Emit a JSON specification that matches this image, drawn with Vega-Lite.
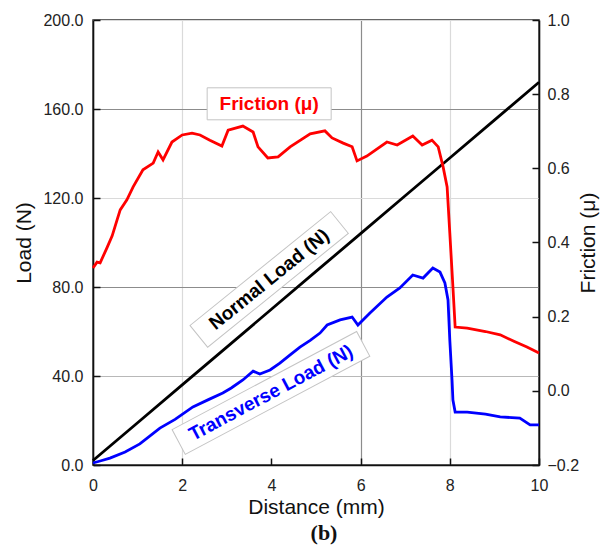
{
  "$schema": "https://vega.github.io/schema/vega-lite/v6.json",
  "width": 446,
  "height": 445,
  "autosize": {"type": "none"},
  "padding": {"left": 93, "top": 20, "right": 63, "bottom": 81},
  "background": "white",
  "config": {
    "font": "Liberation Sans",
    "view": {"stroke": "#333", "strokeWidth": 1.5},
    "axis": {
      "domainColor": "#111",
      "domainWidth": 1.6,
      "tickColor": "#111",
      "tickWidth": 1.5,
      "tickSize": -7,
      "labelFlush": false,
      "labelOverlap": false,
      "labelFont": "Liberation Sans",
      "labelFontSize": 16,
      "labelColor": "#222",
      "titleFont": "Liberation Sans",
      "titleFontSize": 21,
      "titleFontWeight": "normal",
      "titleColor": "#111"
    }
  },
  "title": {
    "text": "(b)",
    "orient": "bottom",
    "anchor": "middle",
    "font": "Liberation Serif",
    "fontWeight": "bold",
    "fontSize": 22,
    "color": "#111",
    "offset": 6,
    "dx": 8
  },
  "datasets": {
    "load": [
      {"d": 0, "load": 2, "series": "Normal"},
      {"d": 1, "load": 19, "series": "Normal"},
      {"d": 2, "load": 36, "series": "Normal"},
      {"d": 3, "load": 53, "series": "Normal"},
      {"d": 4, "load": 70, "series": "Normal"},
      {"d": 5, "load": 87, "series": "Normal"},
      {"d": 6, "load": 104, "series": "Normal"},
      {"d": 7, "load": 121, "series": "Normal"},
      {"d": 8, "load": 138, "series": "Normal"},
      {"d": 9, "load": 155, "series": "Normal"},
      {"d": 10, "load": 172, "series": "Normal"},
      {"d": 0, "load": 0.9, "series": "Transverse"},
      {"d": 0.16, "load": 1.8, "series": "Transverse"},
      {"d": 0.38, "load": 3.1, "series": "Transverse"},
      {"d": 0.72, "load": 5.8, "series": "Transverse"},
      {"d": 1.05, "load": 9.5, "series": "Transverse"},
      {"d": 1.5, "load": 16.6, "series": "Transverse"},
      {"d": 1.84, "load": 20.5, "series": "Transverse"},
      {"d": 2.24, "load": 26.1, "series": "Transverse"},
      {"d": 2.6, "load": 29.5, "series": "Transverse"},
      {"d": 2.91, "load": 32.4, "series": "Transverse"},
      {"d": 3.1, "load": 34.6, "series": "Transverse"},
      {"d": 3.36, "load": 38.2, "series": "Transverse"},
      {"d": 3.59, "load": 42.2, "series": "Transverse"},
      {"d": 3.74, "load": 40.9, "series": "Transverse"},
      {"d": 3.97, "load": 42.7, "series": "Transverse"},
      {"d": 4.19, "load": 45.8, "series": "Transverse"},
      {"d": 4.42, "load": 49.5, "series": "Transverse"},
      {"d": 4.64, "load": 53.0, "series": "Transverse"},
      {"d": 4.87, "load": 56.0, "series": "Transverse"},
      {"d": 5.09, "load": 59.3, "series": "Transverse"},
      {"d": 5.25, "load": 62.9, "series": "Transverse"},
      {"d": 5.54, "load": 65.2, "series": "Transverse"},
      {"d": 5.81, "load": 66.5, "series": "Transverse"},
      {"d": 5.94, "load": 62.9, "series": "Transverse"},
      {"d": 6.21, "load": 68.3, "series": "Transverse"},
      {"d": 6.59, "load": 75.5, "series": "Transverse"},
      {"d": 6.88, "load": 79.6, "series": "Transverse"},
      {"d": 7.17, "load": 85.4, "series": "Transverse"},
      {"d": 7.4, "load": 84.0, "series": "Transverse"},
      {"d": 7.62, "load": 88.5, "series": "Transverse"},
      {"d": 7.78, "load": 86.7, "series": "Transverse"},
      {"d": 7.89, "load": 81.8, "series": "Transverse"},
      {"d": 7.96, "load": 74.2, "series": "Transverse"},
      {"d": 8.0, "load": 56.2, "series": "Transverse"},
      {"d": 8.05, "load": 38.2, "series": "Transverse"},
      {"d": 8.07, "load": 29.2, "series": "Transverse"},
      {"d": 8.12, "load": 23.8, "series": "Transverse"},
      {"d": 8.39, "load": 23.8, "series": "Transverse"},
      {"d": 8.8, "load": 22.9, "series": "Transverse"},
      {"d": 9.13, "load": 21.6, "series": "Transverse"},
      {"d": 9.57, "load": 21.1, "series": "Transverse"},
      {"d": 9.8, "load": 18.0, "series": "Transverse"},
      {"d": 10.0, "load": 18.0, "series": "Transverse"}
    ],
    "friction": [
      {"d": 0, "mu": 0.331},
      {"d": 0.09, "mu": 0.347},
      {"d": 0.16, "mu": 0.345},
      {"d": 0.31, "mu": 0.385},
      {"d": 0.43, "mu": 0.418},
      {"d": 0.54, "mu": 0.461},
      {"d": 0.61, "mu": 0.488},
      {"d": 0.76, "mu": 0.515},
      {"d": 0.9, "mu": 0.55},
      {"d": 1.12, "mu": 0.596},
      {"d": 1.35, "mu": 0.614},
      {"d": 1.46, "mu": 0.644},
      {"d": 1.57, "mu": 0.623},
      {"d": 1.77, "mu": 0.671},
      {"d": 2.0, "mu": 0.69},
      {"d": 2.22, "mu": 0.695},
      {"d": 2.4, "mu": 0.69},
      {"d": 2.62, "mu": 0.676},
      {"d": 2.89, "mu": 0.66},
      {"d": 3.03, "mu": 0.703},
      {"d": 3.36, "mu": 0.714},
      {"d": 3.59, "mu": 0.698},
      {"d": 3.7, "mu": 0.658},
      {"d": 3.92, "mu": 0.628},
      {"d": 4.15, "mu": 0.631},
      {"d": 4.42, "mu": 0.658},
      {"d": 4.87, "mu": 0.693},
      {"d": 5.2, "mu": 0.701},
      {"d": 5.36, "mu": 0.682},
      {"d": 5.61, "mu": 0.668},
      {"d": 5.81, "mu": 0.658},
      {"d": 5.92, "mu": 0.62},
      {"d": 6.14, "mu": 0.633},
      {"d": 6.59, "mu": 0.671},
      {"d": 6.82, "mu": 0.663},
      {"d": 7.17, "mu": 0.687},
      {"d": 7.38, "mu": 0.663},
      {"d": 7.6, "mu": 0.676},
      {"d": 7.74, "mu": 0.658},
      {"d": 7.85, "mu": 0.604},
      {"d": 7.94, "mu": 0.55},
      {"d": 8.0, "mu": 0.426},
      {"d": 8.07, "mu": 0.28},
      {"d": 8.12, "mu": 0.172},
      {"d": 8.39, "mu": 0.169},
      {"d": 8.8, "mu": 0.16},
      {"d": 9.13, "mu": 0.151},
      {"d": 9.45, "mu": 0.133},
      {"d": 9.73, "mu": 0.118},
      {"d": 10.0, "mu": 0.102}
    ]
  },
  "layer": [
    {
      "layer": [
        {
          "data": {"name": "load"},
          "mark": {"type": "line", "strokeWidth": 2.8, "interpolate": "linear"},
          "encoding": {
            "x": {
              "field": "d", "type": "quantitative", "title": "Distance (mm)",
              "scale": {"domain": [0, 10], "nice": false},
              "axis": {
                "values": [0, 2, 4, 6, 8, 10],
                "format": "d",
                "labelPadding": 19,
                "titlePadding": 3,
                "grid": true,
                "gridColor": {"condition": {"test": "datum.value === 6", "value": "#8c8c8c"}, "value": "#dadada"},
                "gridOpacity": {"condition": {"test": "datum.value === 4", "value": 0}, "value": 1},
                "gridWidth": 1.2
              }
            },
            "y": {
              "field": "load", "type": "quantitative", "title": "Load (N)",
              "scale": {"domain": [0, 200], "nice": false},
              "axis": {
                "orient": "left",
                "values": [0, 40, 80, 120, 160, 200],
                "format": ".1f",
                "labelPadding": 17,
                "titlePadding": 8,
                "grid": true,
                "gridColor": {"condition": [
                  {"test": "datum.value === 80 || datum.value === 160", "value": "#8c8c8c"},
                  {"test": "datum.value === 40", "value": "#b8b8b8"}
                ], "value": "#dadada"},
                "gridWidth": 1.2
              }
            },
            "color": {
              "field": "series", "type": "nominal",
              "scale": {"domain": ["Normal", "Transverse"], "range": ["#000000", "#0000ff"]},
              "legend": null
            }
          }
        },
        {
          "data": {"values": [{"d": 3.95, "load": 83.4}]},
          "mark": {"type": "point", "shape": "M-1,-0.155L1,-0.155L1,0.155L-1,0.155Z", "size": 32761, "angle": -39, "filled": true, "fill": "white", "stroke": "#c4c4c4", "strokeWidth": 1, "opacity": 1},
          "encoding": {
            "x": {"field": "d", "type": "quantitative", "title": "Distance (mm)"},
            "y": {"field": "load", "type": "quantitative", "title": "Load (N)"}
          }
        },
        {
          "data": {"values": [{"d": 3.95, "load": 83.4, "label": "Normal Load (N)"}]},
          "mark": {"type": "text", "angle": -39, "align": "center", "baseline": "middle", "font": "Liberation Sans", "fontWeight": "bold", "fontSize": 19, "color": "#000000"},
          "encoding": {
            "x": {"field": "d", "type": "quantitative", "title": "Distance (mm)"},
            "y": {"field": "load", "type": "quantitative", "title": "Load (N)"},
            "text": {"field": "label"}
          }
        },
        {
          "data": {"values": [{"d": 3.99, "load": 32.4}]},
          "mark": {"type": "point", "shape": "M-1,-0.134L1,-0.134L1,0.134L-1,0.134Z", "size": 43681, "angle": -28, "filled": true, "fill": "white", "stroke": "#c4c4c4", "strokeWidth": 1, "opacity": 1},
          "encoding": {
            "x": {"field": "d", "type": "quantitative", "title": "Distance (mm)"},
            "y": {"field": "load", "type": "quantitative", "title": "Load (N)"}
          }
        },
        {
          "data": {"values": [{"d": 3.99, "load": 32.4, "label": "Transverse Load (N)"}]},
          "mark": {"type": "text", "angle": -28, "align": "center", "baseline": "middle", "font": "Liberation Sans", "fontWeight": "bold", "fontSize": 19, "color": "#0000ff"},
          "encoding": {
            "x": {"field": "d", "type": "quantitative", "title": "Distance (mm)"},
            "y": {"field": "load", "type": "quantitative", "title": "Load (N)"},
            "text": {"field": "label"}
          }
        }
      ]
    },
    {
      "layer": [
        {
          "data": {"name": "friction"},
          "mark": {"type": "line", "strokeWidth": 2.8, "color": "#ff0000"},
          "encoding": {
            "x": {"field": "d", "type": "quantitative", "title": "Distance (mm)"},
            "y": {
              "field": "mu", "type": "quantitative", "title": "Friction (μ)",
              "scale": {"domain": [-0.2, 1.0], "nice": false},
              "axis": {
                "orient": "right",
                "values": [-0.2, 0, 0.2, 0.4, 0.6, 0.8, 1.0],
                "format": ".1f",
                "labelPadding": 15,
                "titlePadding": 20,
                "titleAngle": -90,
                "grid": false
              }
            }
          }
        },
        {
          "data": {"values": [{"d": 3.95, "mu": 0.774}]},
          "mark": {"type": "point", "shape": "M-1,-0.258L1,-0.258L1,0.258L-1,0.258Z", "size": 15376, "filled": true, "fill": "white", "stroke": "#c4c4c4", "strokeWidth": 1, "opacity": 1},
          "encoding": {
            "x": {"field": "d", "type": "quantitative", "title": "Distance (mm)"},
            "y": {"field": "mu", "type": "quantitative", "title": "Friction (μ)"}
          }
        },
        {
          "data": {"values": [{"d": 3.95, "mu": 0.774, "label": "Friction (μ)"}]},
          "mark": {"type": "text", "align": "center", "baseline": "middle", "font": "Liberation Sans", "fontWeight": "bold", "fontSize": 19, "color": "#ff0000"},
          "encoding": {
            "x": {"field": "d", "type": "quantitative", "title": "Distance (mm)"},
            "y": {"field": "mu", "type": "quantitative", "title": "Friction (μ)"},
            "text": {"field": "label"}
          }
        }
      ]
    }
  ],
  "resolve": {"scale": {"y": "independent"}}
}
